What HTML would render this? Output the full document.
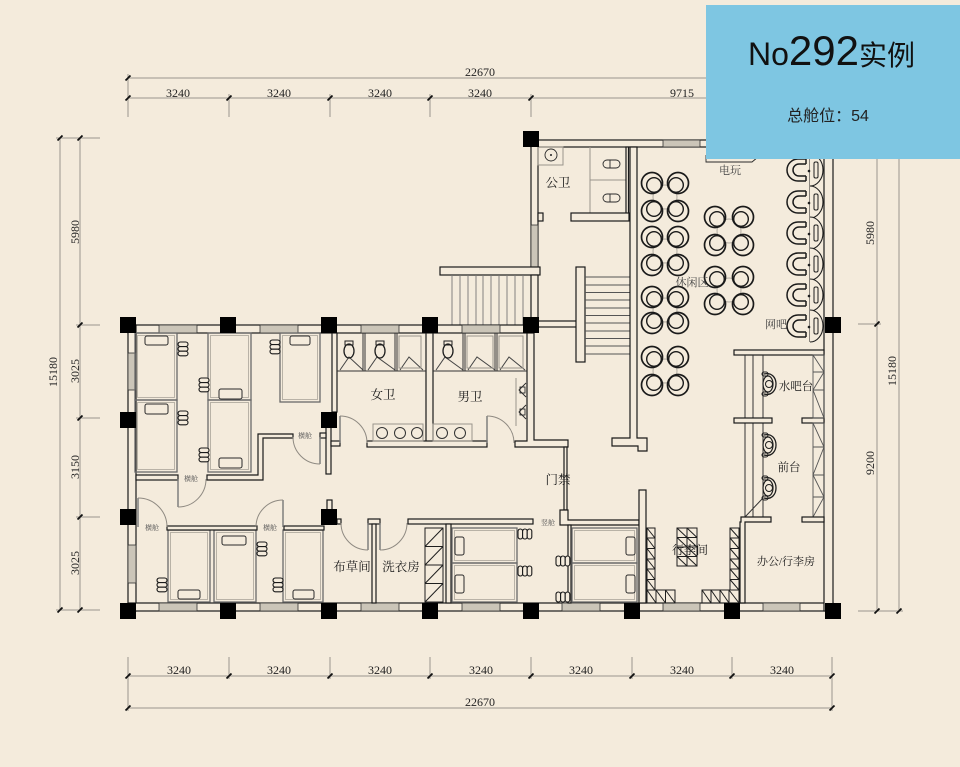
<!DOCTYPE html>
<html><head><meta charset="utf-8">
<style>
html,body{margin:0;padding:0;background:#f4ebdc;}
svg{display:block}
.w{fill:#f4ebdc;stroke:#1a1a1a;stroke-width:1.2}
.t{fill:none;stroke:#2a2a2a;stroke-width:0.9}
.g{fill:none;stroke:#9a958c;stroke-width:1}
.d{stroke:#9a968e;stroke-width:1;fill:none}
.win{fill:#cbc5b8;stroke:#333;stroke-width:0.8}
.pod{fill:none;stroke:#6a6a6a;stroke-width:1.3}
.pi{fill:none;stroke:#aaa49a;stroke-width:0.8}
.pil{fill:#f4ebdc;stroke:#2a2a2a;stroke-width:1}
.lad{fill:#f4ebdc;stroke:#1a1a1a;stroke-width:1.1}
.arc{fill:none;stroke:#8f8a82;stroke-width:1}
.leaf{stroke:#777;stroke-width:1.4}
.lab{font-family:"Liberation Serif","Noto Serif CJK SC",serif;font-size:12px;fill:#222}
.cn{font-family:"Liberation Serif","Noto Serif CJK SC",serif;font-size:12.5px;fill:#1a1a1a}
.sm{font-family:"Liberation Serif","Noto Serif CJK SC",serif;font-size:7px;fill:#555}
</style></head><body>
<svg width="960" height="767" viewBox="0 0 960 767" xmlns="http://www.w3.org/2000/svg">
<defs>
<path id="tk" d="M-2.5,2.5L2.5,-2.5" stroke="#111" stroke-width="1.8"/>
<g id="ch"><circle r="10.5" fill="#f4ebdc" stroke="#1a1a1a" stroke-width="1.7"/><circle cy="2.8" r="7.3" fill="none" stroke="#1a1a1a" stroke-width="1.4"/></g>
<g id="nc"><path d="M9,-11H1A11,11 0 0 0 1,11H9M9,-6H2A6,6 0 0 0 2,6H9M9,-11V-6M9,6V11" fill="#f4ebdc" stroke="#1a1a1a" stroke-width="1.5"/></g>
<g id="dk"><path d="M0,-16A13,16 0 0 1 0,16" fill="#f4ebdc" stroke="#1e1e1e" stroke-width="1.1"/><rect x="4" y="-8" width="4" height="16" rx="1.5" fill="none" stroke="#1e1e1e" stroke-width="1"/><circle cx="-1" cy="1" r="1.3" fill="#1e1e1e"/></g>
<g id="ps"><path d="M-4,-10C4,-12 8,-6 8,0C8,6 4,12 -4,10" fill="none" stroke="#1e1e1e" stroke-width="1.3"/><ellipse cx="0" cy="0" rx="5" ry="8" fill="#f4ebdc" stroke="#1e1e1e" stroke-width="1.2"/><circle cx="1" cy="0" r="3.5" fill="none" stroke="#1e1e1e" stroke-width="1"/><rect x="-6" y="-12" width="6" height="4" rx="2" fill="none" stroke="#1e1e1e" stroke-width="1"/><rect x="-6" y="8" width="6" height="4" rx="2" fill="none" stroke="#1e1e1e" stroke-width="1"/></g>
<g id="lv"><rect x="0" y="0" width="10" height="4.6" rx="2.3" class="lad"/><rect x="0" y="4.6" width="10" height="4.6" rx="2.3" class="lad"/><rect x="0" y="9.2" width="10" height="4.6" rx="2.3" class="lad"/></g>
<g id="lh"><rect x="0" y="0" width="4.6" height="10" rx="2.3" class="lad"/><rect x="4.6" y="0" width="4.6" height="10" rx="2.3" class="lad"/><rect x="9.2" y="0" width="4.6" height="10" rx="2.3" class="lad"/></g>
<g id="wc"><rect x="-4" y="-9" width="8" height="4" fill="none" stroke="#1e1e1e" stroke-width="1"/><ellipse cx="0" cy="1" rx="5" ry="7" fill="none" stroke="#1e1e1e" stroke-width="1.3"/></g>
</defs>

<rect width="960" height="767" fill="#f4ebdc"/>

<!-- ===== DIMENSIONS ===== -->
<g class="d">
<line x1="128" y1="78" x2="832" y2="78"/>
<line x1="128" y1="98" x2="832" y2="98"/>
<line x1="128" y1="74" x2="128" y2="117"/>
<line x1="229" y1="94" x2="229" y2="117"/>
<line x1="330" y1="94" x2="330" y2="117"/>
<line x1="430" y1="94" x2="430" y2="117"/>
<line x1="531" y1="94" x2="531" y2="117"/>
<line x1="128" y1="676" x2="832" y2="676"/>
<line x1="128" y1="708" x2="832" y2="708"/>
<line x1="128" y1="657" x2="128" y2="711"/>
<line x1="229" y1="657" x2="229" y2="679"/>
<line x1="330" y1="657" x2="330" y2="679"/>
<line x1="430" y1="657" x2="430" y2="679"/>
<line x1="531" y1="657" x2="531" y2="679"/>
<line x1="632" y1="657" x2="632" y2="679"/>
<line x1="732" y1="657" x2="732" y2="679"/>
<line x1="832" y1="657" x2="832" y2="711"/>
<line x1="60" y1="138" x2="60" y2="610"/>
<line x1="80" y1="138" x2="80" y2="610"/>
<line x1="56" y1="138" x2="100" y2="138"/>
<line x1="56" y1="610" x2="100" y2="610"/>
<line x1="76" y1="325" x2="100" y2="325"/>
<line x1="76" y1="418" x2="100" y2="418"/>
<line x1="76" y1="517" x2="100" y2="517"/>
<line x1="877" y1="139" x2="877" y2="611"/>
<line x1="899" y1="139" x2="899" y2="611"/>
<line x1="858" y1="324" x2="881" y2="324"/>
<line x1="858" y1="611" x2="903" y2="611"/>
</g>
<g>
<use href="#tk" x="128" y="78"/><use href="#tk" x="128" y="98"/><use href="#tk" x="229" y="98"/><use href="#tk" x="330" y="98"/><use href="#tk" x="430" y="98"/><use href="#tk" x="531" y="98"/>
<use href="#tk" x="128" y="676"/><use href="#tk" x="229" y="676"/><use href="#tk" x="330" y="676"/><use href="#tk" x="430" y="676"/><use href="#tk" x="531" y="676"/><use href="#tk" x="632" y="676"/><use href="#tk" x="732" y="676"/><use href="#tk" x="832" y="676"/>
<use href="#tk" x="128" y="708"/><use href="#tk" x="832" y="708"/>
<use href="#tk" x="60" y="138"/><use href="#tk" x="60" y="610"/><use href="#tk" x="80" y="138"/><use href="#tk" x="80" y="325"/><use href="#tk" x="80" y="418"/><use href="#tk" x="80" y="517"/><use href="#tk" x="80" y="610"/>
<use href="#tk" x="877" y="324"/><use href="#tk" x="877" y="611"/><use href="#tk" x="899" y="611"/>
</g>
<g class="lab" text-anchor="middle">
<text x="480" y="76">22670</text>
<text x="178" y="97">3240</text><text x="279" y="97">3240</text><text x="380" y="97">3240</text><text x="480" y="97">3240</text><text x="682" y="97">9715</text>
<text x="179" y="674">3240</text><text x="279" y="674">3240</text><text x="380" y="674">3240</text><text x="481" y="674">3240</text><text x="581" y="674">3240</text><text x="682" y="674">3240</text><text x="782" y="674">3240</text>
<text x="480" y="706">22670</text>
<text transform="translate(75,232) rotate(-90)" dominant-baseline="central">5980</text>
<text transform="translate(75,371) rotate(-90)" dominant-baseline="central">3025</text>
<text transform="translate(75,467) rotate(-90)" dominant-baseline="central">3150</text>
<text transform="translate(75,563) rotate(-90)" dominant-baseline="central">3025</text>
<text transform="translate(53,372) rotate(-90)" dominant-baseline="central">15180</text>
<text transform="translate(870,233) rotate(-90)" dominant-baseline="central">5980</text>
<text transform="translate(870,463) rotate(-90)" dominant-baseline="central">9200</text>
<text transform="translate(892,371) rotate(-90)" dominant-baseline="central">15180</text>
</g>

<!-- ===== UPPER BLOCK ===== -->
<rect class="w" x="531" y="140" width="301" height="7"/>
<rect class="win" x="663" y="140" width="37" height="7"/>
<rect class="w" x="531" y="140" width="7" height="127"/>
<rect class="win" x="531" y="225" width="7" height="42"/>
<rect class="w" x="538" y="213" width="5" height="8"/>
<rect class="w" x="440" y="267" width="100" height="8"/>
<rect class="w" x="531" y="275" width="7" height="43"/>
<g stroke="#777" stroke-width="0.9">
<line x1="452" y1="275" x2="452" y2="325"/><line x1="460" y1="275" x2="460" y2="325"/><line x1="468" y1="275" x2="468" y2="325"/><line x1="476" y1="275" x2="476" y2="325"/><line x1="483" y1="275" x2="483" y2="325"/><line x1="491" y1="275" x2="491" y2="325"/><line x1="499" y1="275" x2="499" y2="325"/><line x1="507" y1="275" x2="507" y2="325"/><line x1="515" y1="275" x2="515" y2="325"/><line x1="523" y1="275" x2="523" y2="325"/>
</g>
<!-- public wc -->
<rect class="g" x="538" y="147" width="25" height="18"/>
<circle cx="551" cy="155" r="6" class="t"/><circle cx="551" cy="155" r="1" fill="#222"/>
<line x1="590" y1="147" x2="590" y2="213" class="g"/>
<line x1="590" y1="180" x2="627" y2="180" class="g"/>
<rect class="w" x="626" y="147" width="2.5" height="67"/>
<rect class="w" x="571" y="213" width="58" height="8"/>
<rect x="603" y="160" width="17" height="8" rx="4" class="t" stroke-width="1.3"/><line x1="610" y1="160" x2="610" y2="168" class="t"/>
<rect x="603" y="194" width="17" height="8" rx="4" class="t" stroke-width="1.3"/><line x1="610" y1="194" x2="610" y2="202" class="t"/>
<!-- stair right -->
<rect class="w" x="538" y="321" width="39" height="6"/>
<rect class="w" x="576" y="267" width="9" height="95"/>
<g stroke="#555" stroke-width="0.9">
<line x1="585" y1="277" x2="630" y2="277"/><line x1="585" y1="285" x2="630" y2="285"/><line x1="585" y1="292.5" x2="630" y2="292.5"/><line x1="585" y1="300" x2="630" y2="300"/><line x1="585" y1="308" x2="630" y2="308"/><line x1="585" y1="315.5" x2="630" y2="315.5"/><line x1="585" y1="323" x2="630" y2="323"/><line x1="585" y1="331" x2="630" y2="331"/><line x1="585" y1="338.5" x2="630" y2="338.5"/><line x1="585" y1="346" x2="630" y2="346"/><line x1="585" y1="354" x2="630" y2="354"/>
</g>
<!-- leisure wall -->
<path class="w" d="M630,147H637V438H647V451H638V446H612V438H630Z"/>
<!-- 电玩 -->
<path d="M706,155V162H752L758,157" class="t"/>
<!-- leisure chairs -->
<g fill="none" stroke="#b0aaa0" stroke-width="1">
<circle cx="665" cy="197" r="12"/><circle cx="665" cy="251" r="12"/><circle cx="665" cy="310" r="12"/><circle cx="665" cy="371" r="12"/>
<circle cx="729" cy="231" r="12"/><circle cx="729" cy="290" r="12"/>
</g>
<g>
<use href="#ch" transform="translate(652,183) rotate(-45)"/><use href="#ch" transform="translate(678,183) rotate(45)"/><use href="#ch" transform="translate(652,211) rotate(-135)"/><use href="#ch" transform="translate(678,211) rotate(135)"/>
<use href="#ch" transform="translate(652,237) rotate(-45)"/><use href="#ch" transform="translate(678,237) rotate(45)"/><use href="#ch" transform="translate(652,265) rotate(-135)"/><use href="#ch" transform="translate(678,265) rotate(135)"/>
<use href="#ch" transform="translate(652,297) rotate(-45)"/><use href="#ch" transform="translate(678,297) rotate(45)"/><use href="#ch" transform="translate(652,323) rotate(-135)"/><use href="#ch" transform="translate(678,323) rotate(135)"/>
<use href="#ch" transform="translate(652,357) rotate(-45)"/><use href="#ch" transform="translate(678,357) rotate(45)"/><use href="#ch" transform="translate(652,385) rotate(-135)"/><use href="#ch" transform="translate(678,385) rotate(135)"/>
<use href="#ch" transform="translate(715,217) rotate(-45)"/><use href="#ch" transform="translate(743,217) rotate(45)"/><use href="#ch" transform="translate(715,245) rotate(-135)"/><use href="#ch" transform="translate(743,245) rotate(135)"/>
<use href="#ch" transform="translate(715,277) rotate(-45)"/><use href="#ch" transform="translate(743,277) rotate(45)"/><use href="#ch" transform="translate(715,304) rotate(-135)"/><use href="#ch" transform="translate(743,304) rotate(135)"/>
</g>
<!-- net bar -->
<line x1="810" y1="150" x2="810" y2="342" stroke="#1e1e1e" stroke-width="1"/>
<use href="#dk" x="810" y="170"/><use href="#dk" x="810" y="202"/><use href="#dk" x="810" y="233"/><use href="#dk" x="810" y="264"/><use href="#dk" x="810" y="295"/><use href="#dk" x="810" y="326"/>
<use href="#nc" x="797" y="170"/><use href="#nc" x="797" y="202"/><use href="#nc" x="797" y="233"/><use href="#nc" x="797" y="264"/><use href="#nc" x="797" y="295"/><use href="#nc" x="797" y="326"/>

<!-- ===== LOWER BLOCK OUTER WALLS ===== -->
<rect class="w" x="128" y="325" width="403" height="8"/>
<rect class="win" x="159" y="325" width="38" height="8"/><rect class="win" x="260" y="325" width="38" height="8"/><rect class="win" x="361" y="325" width="38" height="8"/><rect class="win" x="462" y="325" width="38" height="8"/>
<rect class="w" x="128" y="325" width="8" height="286"/>
<rect class="win" x="128" y="353" width="8" height="37"/><rect class="win" x="128" y="545" width="8" height="38"/>
<rect class="w" x="128" y="603" width="705" height="8"/>
<rect class="win" x="159" y="603" width="38" height="8"/><rect class="win" x="260" y="603" width="38" height="8"/><rect class="win" x="361" y="603" width="38" height="8"/><rect class="win" x="462" y="603" width="38" height="8"/><rect class="win" x="562" y="603" width="38" height="8"/><rect class="win" x="663" y="603" width="37" height="8"/><rect class="win" x="763" y="603" width="37" height="8"/>
<rect class="w" x="824" y="140" width="9" height="471"/>

<!-- ===== CAPSULE ROOMS LEFT ===== -->
<g>
<rect class="pod" x="135" y="333" width="42" height="67"/><rect class="pi" x="137.5" y="335.5" width="37" height="62"/>
<rect class="pod" x="135" y="400" width="42" height="72"/><rect class="pi" x="137.5" y="402.5" width="37" height="67"/>
<rect class="pod" x="208" y="333" width="43" height="67"/><rect class="pi" x="210.5" y="335.5" width="38" height="62"/>
<rect class="pod" x="208" y="400" width="43" height="72"/><rect class="pi" x="210.5" y="402.5" width="38" height="67"/>
<rect class="pod" x="280" y="333" width="40" height="69"/><rect class="pi" x="282.5" y="335.5" width="35" height="64"/>
<rect class="pod" x="168" y="530" width="42" height="72"/><rect class="pi" x="170.5" y="532.5" width="37" height="67"/>
<rect class="pod" x="214" y="530" width="42" height="72"/><rect class="pi" x="216.5" y="532.5" width="37" height="67"/>
<rect class="pod" x="283" y="530" width="40" height="72"/><rect class="pi" x="285.5" y="532.5" width="35" height="67"/>
<rect class="pil" x="145" y="336" width="23" height="9" rx="2"/>
<rect class="pil" x="145" y="404" width="23" height="10" rx="2"/>
<rect class="pil" x="219" y="389" width="23" height="10" rx="2"/>
<rect class="pil" x="219" y="458" width="23" height="10" rx="2"/>
<rect class="pil" x="290" y="336" width="20" height="9" rx="2"/>
<rect class="pil" x="178" y="590" width="22" height="9" rx="2"/>
<rect class="pil" x="222" y="536" width="24" height="9" rx="2"/>
<rect class="pil" x="293" y="590" width="21" height="9" rx="2"/>
<use href="#lv" x="178" y="342"/><use href="#lv" x="178" y="411"/><use href="#lv" x="199" y="378"/><use href="#lv" x="199" y="448"/><use href="#lv" x="270" y="340"/>
<use href="#lv" x="157" y="578"/><use href="#lv" x="257" y="542"/><use href="#lv" x="273" y="578"/>
</g>
<!-- corridor walls left -->
<rect class="w" x="136" y="475" width="42" height="5"/>
<path class="w" d="M207,475H258V434H293V438H263V480H207Z"/>
<rect class="w" x="326" y="427" width="5" height="47"/>
<rect class="w" x="320" y="433" width="6" height="5"/>
<rect class="w" x="331" y="441" width="9" height="5"/>
<rect class="w" x="327" y="500" width="5" height="10"/>
<rect class="w" x="167" y="526" width="90" height="4"/>
<rect class="w" x="284" y="526" width="40" height="4"/>
<!-- doors left -->
<line x1="178" y1="479" x2="178" y2="507" class="leaf"/><path class="arc" d="M178,507A28,28 0 0 0 206,479"/>
<line x1="320" y1="437" x2="320" y2="464" class="leaf"/><path class="arc" d="M320,464A27,27 0 0 1 293,437"/>
<line x1="138" y1="527" x2="138" y2="498" class="leaf"/><path class="arc" d="M138,498A29,29 0 0 1 167,527"/>
<line x1="283" y1="527" x2="283" y2="500" class="leaf"/><path class="arc" d="M283,500A27,27 0 0 0 256,527"/>

<!-- ===== TOILETS ===== -->
<rect class="w" x="332" y="333" width="5" height="79"/>
<rect class="w" x="426" y="333" width="7" height="110"/>
<path class="w" d="M527,333H534V440H568V447H515V441H527Z"/>
<rect class="w" x="367" y="441" width="120" height="6"/>
<g stroke="#333" stroke-width="1" fill="none">
<line x1="337" y1="371" x2="426" y2="371"/><line x1="433" y1="371" x2="527" y2="371"/>
<line x1="363" y1="333" x2="363" y2="371"/><line x1="365" y1="333" x2="365" y2="371"/>
<line x1="395" y1="333" x2="395" y2="371"/><line x1="397" y1="333" x2="397" y2="371"/>
<line x1="463" y1="333" x2="463" y2="371"/><line x1="465" y1="333" x2="465" y2="371"/>
<line x1="495" y1="333" x2="495" y2="371"/><line x1="497" y1="333" x2="497" y2="371"/>
<path d="M340,370L349,357L363,370M368,370L377,357L395,370M400,370L409,357L423,370M436,370L445,357L463,370M468,370L477,357L495,370M500,370L509,357L525,370" stroke="#444"/>
</g>
<rect class="g" x="399" y="336" width="22" height="32"/><rect class="g" x="467" y="336" width="26" height="32"/><rect class="g" x="499" y="336" width="24" height="32"/>
<use href="#wc" x="349" y="350"/><use href="#wc" x="380" y="350"/><use href="#wc" x="448" y="350"/>
<!-- sinks -->
<rect class="g" x="373" y="424" width="50" height="17"/><rect class="g" x="433" y="424" width="39" height="17"/>
<g fill="none" stroke="#333" stroke-width="1"><circle cx="382" cy="433" r="5.5"/><circle cx="400" cy="433" r="5.5"/><circle cx="417" cy="433" r="5.5"/><circle cx="442" cy="433" r="5.5"/><circle cx="460" cy="433" r="5.5"/></g>
<!-- urinals -->
<line x1="516" y1="378" x2="516" y2="426" class="g"/>
<path d="M526,383L519,390L526,397M526,405L519,412L526,419" class="t"/><rect x="520" y="387" width="5" height="6" class="t"/><rect x="520" y="409" width="5" height="6" class="t"/>
<!-- toilet doors -->
<line x1="340" y1="443" x2="340" y2="416" class="leaf"/><path class="arc" d="M340,416A27,27 0 0 1 367,443"/>
<line x1="487" y1="443" x2="487" y2="416" class="leaf"/><path class="arc" d="M487,416A27,27 0 0 1 514,443"/>
<!-- gate -->
<rect class="w" x="564" y="447" width="3" height="63"/>
<path class="w" d="M560,510H568V520H639V525H560Z"/>
<rect class="w" x="639" y="490" width="7" height="113"/>
<rect class="w" x="568" y="525" width="3" height="78"/>

<!-- ===== LOWER MIDDLE ROOMS ===== -->
<rect class="w" x="337" y="519" width="4" height="5"/>
<rect class="w" x="368" y="519" width="12" height="5"/>
<rect class="w" x="372" y="524" width="4" height="79"/>
<rect class="w" x="408" y="519" width="125" height="5"/>
<rect class="w" x="446" y="524" width="5" height="79"/>
<line x1="368" y1="523" x2="368" y2="550" class="leaf"/><path class="arc" d="M368,550A27,27 0 0 1 341,523"/>
<line x1="380" y1="523" x2="380" y2="550" class="leaf"/><path class="arc" d="M380,550A27,27 0 0 0 407,523"/>
<!-- shelving -->
<g fill="none" stroke="#1e1e1e" stroke-width="1">
<rect x="425" y="528" width="18" height="74"/>
<path d="M425,546.5H443M425,565H443M425,583.5H443M425,546.5L443,528M425,565L443,546.5M425,583.5L443,565M425,602L443,583.5"/>
</g>
<!-- beds rooms -->
<rect class="pod" x="452" y="528" width="65" height="35"/><rect class="pi" x="454.5" y="530.5" width="60" height="30"/>
<rect class="pod" x="452" y="563" width="65" height="39"/><rect class="pi" x="454.5" y="565.5" width="60" height="34"/>
<rect class="pod" x="572" y="528" width="65" height="35"/><rect class="pi" x="574.5" y="530.5" width="60" height="30"/>
<rect class="pod" x="572" y="563" width="65" height="39"/><rect class="pi" x="574.5" y="565.5" width="60" height="34"/>
<rect class="pil" x="455" y="537" width="9" height="18" rx="2"/><rect class="pil" x="455" y="575" width="9" height="18" rx="2"/>
<rect class="pil" x="626" y="537" width="9" height="18" rx="2"/><rect class="pil" x="626" y="575" width="9" height="18" rx="2"/>
<use href="#lh" x="518" y="529"/><use href="#lh" x="518" y="566"/><use href="#lh" x="556" y="556"/><use href="#lh" x="556" y="592"/>

<!-- ===== LUGGAGE ROOM ===== -->
<g fill="none" stroke="#1e1e1e" stroke-width="1">
<rect x="647" y="528" width="8" height="62"/>
<path d="M647,538H655M647,548.5H655M647,559H655M647,569H655M647,579.5H655M647,528L655,538M647,538L655,548.5M647,548.5L655,559M647,559L655,569M647,569L655,579.5M647,579.5L655,590"/>
<rect x="647" y="590" width="28" height="13"/>
<path d="M656,590V603M665.5,590V603M647,590L656,603M656,590L665.5,603M665.5,590L675,603"/>
<rect x="730" y="528" width="9" height="62"/>
<path d="M730,538H739M730,548.5H739M730,559H739M730,569H739M730,579.5H739M730,528L739,538M730,538L739,548.5M730,548.5L739,559M730,559L739,569M730,569L739,579.5M730,579.5L739,590"/>
<rect x="702" y="590" width="37" height="13"/>
<path d="M711,590V603M720,590V603M729,590V603M702,590L711,603M711,590L720,603M720,590L729,603M729,590L739,603"/>
<rect x="677" y="528" width="20" height="38"/>
<path d="M687,528V566M677,537.5H697M677,547H697M677,556.5H697M677,528L687,537.5M687,528L697,537.5M677,537.5L687,547M687,537.5L697,547M677,547L687,556.5M687,547L697,556.5M677,556.5L687,566M687,556.5L697,566"/>
</g>

<!-- ===== BAR / RECEPTION ===== -->
<rect class="w" x="734" y="350" width="90" height="5"/>
<g stroke="#333" stroke-width="1">
<line x1="745" y1="355" x2="745" y2="517"/><line x1="753" y1="355" x2="753" y2="517"/><line x1="763" y1="355" x2="763" y2="517"/>
<line x1="745" y1="517" x2="763" y2="498"/>
</g>
<rect class="w" x="734" y="418" width="38" height="5"/>
<rect class="w" x="802" y="418" width="22" height="5"/>
<g fill="none" stroke="#555" stroke-width="0.9">
<rect x="813" y="355" width="11" height="63"/>
<path d="M813,372H824M813,390H824M813,355L824,372L813,390L824,418"/>
<rect x="813" y="423" width="11" height="94"/>
<path d="M813,447H824M813,475H824M813,497H824M813,423L824,447L813,475L824,497L813,517"/>
</g>
<path class="w" d="M741,517H771V522H745V603H740V522H741Z"/>
<rect class="w" x="802" y="517" width="22" height="5"/>
<use href="#ps" x="768" y="384"/><use href="#ps" x="768" y="445"/><use href="#ps" x="768" y="488"/>

<!-- ===== COLUMNS ===== -->
<g fill="#000">
<rect x="120" y="317" width="16" height="16"/><rect x="220" y="317" width="16" height="16"/><rect x="321" y="317" width="16" height="16"/><rect x="422" y="317" width="16" height="16"/><rect x="523" y="317" width="16" height="16"/><rect x="825" y="317" width="16" height="16"/>
<rect x="523" y="131" width="16" height="16"/>
<rect x="120" y="412" width="16" height="16"/><rect x="321" y="412" width="16" height="16"/>
<rect x="120" y="509" width="16" height="16"/><rect x="321" y="509" width="16" height="16"/>
<rect x="120" y="603" width="16" height="16"/><rect x="220" y="603" width="16" height="16"/><rect x="321" y="603" width="16" height="16"/><rect x="422" y="603" width="16" height="16"/><rect x="523" y="603" width="16" height="16"/><rect x="624" y="603" width="16" height="16"/><rect x="724" y="603" width="16" height="16"/><rect x="825" y="603" width="16" height="16"/>
</g>

<!-- ===== LABELS ===== -->
<g class="cn" text-anchor="middle">
<text x="558" y="187">公卫</text>
<text x="383" y="399">女卫</text>
<text x="470" y="401">男卫</text>
<text x="558" y="484">门禁</text>
<text x="352" y="571">布草间</text>
<text x="401" y="571">洗衣房</text>
<text x="690" y="554" font-size="12">行李间</text>
<text x="786" y="565" font-size="11">办公/行李房</text>
<text x="789" y="471" font-size="11.5">前台</text>
<text x="796" y="390" font-size="11.5">水吧台</text>
<text x="776" y="328" font-size="11" fill="#444">网吧</text>
<text x="692" y="286" font-size="11" fill="#444">休闲区</text>
<text x="730" y="174" font-size="11" fill="#444">电玩</text>
</g>
<g class="sm" text-anchor="middle">
<text x="191" y="481">横舱</text>
<text x="305" y="438">横舱</text>
<text x="152" y="530">横舱</text>
<text x="270" y="530">横舱</text>
<text x="548" y="525">竖舱</text>
</g>

<!-- ===== BLUE BOX ===== -->
<rect x="706" y="5" width="254" height="154" fill="#7ec6e2"/>
<text x="748" y="65" font-family="Liberation Sans, 'Noto Sans CJK SC', sans-serif" fill="#111"><tspan font-size="32">No</tspan><tspan font-size="42">292</tspan><tspan font-size="28" font-family="'Noto Sans CJK SC', sans-serif">实例</tspan></text>
<text x="828" y="121" text-anchor="middle" font-family="Liberation Sans, 'Noto Sans CJK SC', sans-serif" font-size="16" fill="#222">总舱位：54</text>
</svg>
</body></html>
